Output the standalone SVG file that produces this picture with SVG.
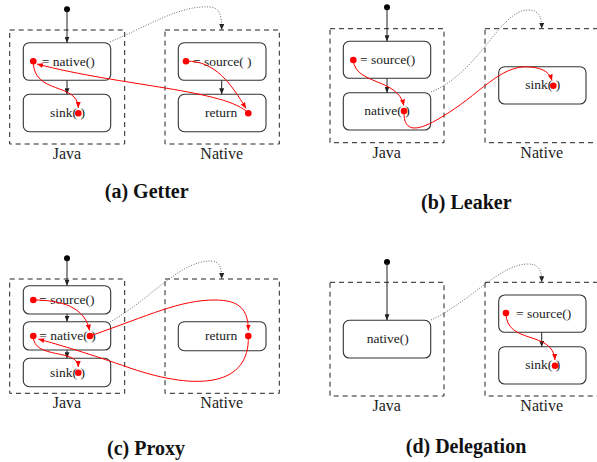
<svg xmlns="http://www.w3.org/2000/svg" width="597" height="462" viewBox="0 0 597 462">
<style>
.frame{fill:none;stroke:#222;stroke-width:1;stroke-dasharray:5 4}
.node rect{fill:#fff;stroke:#333;stroke-width:1.1}
.t{font-family:"Liberation Serif","Times New Roman",serif;font-size:13.5px;fill:#222}
.lab{font-family:"Liberation Serif","Times New Roman",serif;font-size:16px;fill:#222;text-anchor:middle}
.cap{font-family:"Liberation Serif","Times New Roman",serif;font-size:20px;font-weight:bold;fill:#111;text-anchor:middle}
.blk{fill:none;stroke:#222;stroke-width:1;marker-end:url(#ab)}
.dot{fill:none;stroke:#444;stroke-width:0.8;stroke-dasharray:1 1.6;marker-end:url(#ab)}
.red{fill:none;stroke:#f00;stroke-width:1;marker-end:url(#ar)}
.rd{fill:#f00}
.sd{fill:#000}
</style>
<defs>
<marker id="ab" markerUnits="userSpaceOnUse" markerWidth="6" markerHeight="5" refX="6" refY="2.5" orient="auto"><path d="M0,0 L6,2.5 L0,5 z" fill="#222"/></marker>
<marker id="ar" markerUnits="userSpaceOnUse" markerWidth="6" markerHeight="5" refX="6" refY="2.5" orient="auto"><path d="M0,0 L6,2.5 L0,5 z" fill="#f00"/></marker>
</defs>

<!-- Panel (a) Getter -->
<g id="a-frames">
<rect class="frame" x="9.7" y="30" width="115" height="114"/>
<rect class="frame" x="165" y="30" width="114.3" height="114"/>
<text class="lab" x="67" y="159">Java</text>
<text class="lab" x="221.7" y="159">Native</text>
<text class="cap" x="146.7" y="198">(a) Getter</text>
</g>
<g id="a-start"><circle class="sd" cx="67" cy="9.3" r="3"/></g>
<g id="a-native" class="node"><rect x="23.3" y="42.7" width="87.4" height="37.6" rx="6"/><text class="t" x="41.7" y="65.5">= native()</text></g>
<g id="a-sink" class="node"><rect x="23.3" y="94.3" width="87.4" height="37.4" rx="6"/><text class="t" x="50" y="117">sink( )</text></g>
<g id="a-source" class="node"><rect x="178.3" y="42.7" width="87.7" height="37.6" rx="6"/><text class="t" x="193" y="65.5">= source( )</text></g>
<g id="a-return" class="node"><rect x="178.3" y="94.3" width="87.7" height="37.4" rx="6"/><text class="t" x="205" y="117">return</text></g>
<g id="a-connectors">
<path class="blk" d="M67,9.3 V42.7"/>
<path class="blk" d="M67,80.3 V94.3"/>
<path class="blk" d="M221.7,80.3 V94.3"/>
<path class="dot" d="M110,42 C150,25 180,5 210,7 C220,8 221.7,15 221.7,30"/>
<path class="red" d="M33.3,61.3 C33,95 78,82 78.3,108"/>
<path class="red" d="M248.3,113.3 C228,90 120,86 37,64"/>
<path class="red" d="M186,61.3 C215,60 232,85 246,108.5"/>
<circle class="rd" cx="33.3" cy="61.3" r="3.3"/>
<circle class="rd" cx="78.3" cy="113.3" r="3.3"/>
<circle class="rd" cx="186" cy="61.3" r="3.3"/>
<circle class="rd" cx="248.3" cy="113.3" r="3.3"/>
</g>

<!-- Panel (b) Leaker -->
<g id="b-frames">
<rect class="frame" x="330" y="28.7" width="114" height="114"/>
<rect class="frame" x="485" y="28.7" width="114" height="114"/>
<text class="lab" x="386.7" y="158">Java</text>
<text class="lab" x="541.7" y="158">Native</text>
<text class="cap" x="466.3" y="209">(b) Leaker</text>
</g>
<g id="b-start"><circle class="sd" cx="387" cy="7.3" r="3"/></g>
<g id="b-source" class="node"><rect x="343.3" y="41.3" width="87.4" height="37" rx="6"/><text class="t" x="360" y="64">= source()</text></g>
<g id="b-native" class="node"><rect x="343.3" y="92.7" width="87.4" height="37.3" rx="6"/><text class="t" x="364.3" y="115">native( )</text></g>
<g id="b-sink" class="node"><rect x="498.7" y="66.7" width="87.3" height="37.3" rx="6"/><text class="t" x="525.3" y="89.3">sink( )</text></g>
<g id="b-connectors">
<path class="blk" d="M387,7.3 V41.3"/>
<path class="blk" d="M387,78.3 V92.7"/>
<path class="dot" d="M431,92 C480,72 500,10 528,10 C539,10 541.7,17 541.7,28.7"/>
<path class="red" d="M353.3,60 C355,85 398,78 403.8,105.5"/>
<path class="red" d="M404,111 C403,135 420,130 440,118 C480,95 500,64 530,67 C545,68 550,74 552,80.5"/>
<circle class="rd" cx="353.3" cy="60" r="3.3"/>
<circle class="rd" cx="404" cy="111" r="3.3"/>
<circle class="rd" cx="553.3" cy="85.7" r="3.3"/>
</g>

<!-- Panel (c) Proxy -->
<g id="c-frames">
<rect class="frame" x="9.7" y="279" width="115" height="114.3"/>
<rect class="frame" x="165" y="279" width="114.3" height="114.3"/>
<text class="lab" x="67" y="408">Java</text>
<text class="lab" x="221.7" y="408">Native</text>
<text class="cap" x="146" y="455">(c) Proxy</text>
</g>
<g id="c-start"><circle class="sd" cx="67" cy="258.3" r="3"/></g>
<g id="c-source" class="node"><rect x="23.3" y="285.7" width="87.4" height="28.3" rx="6"/><text class="t" x="39.3" y="304">= source()</text></g>
<g id="c-native" class="node"><rect x="23.3" y="321.7" width="87.4" height="28.3" rx="6"/><text class="t" x="39.3" y="340">= native( )</text></g>
<g id="c-sink" class="node"><rect x="23.3" y="358.3" width="87.4" height="28.4" rx="6"/><text class="t" x="50" y="376.5">sink( )</text></g>
<g id="c-return" class="node"><rect x="178.3" y="321.7" width="87.7" height="29" rx="6"/><text class="t" x="205" y="340">return</text></g>
<g id="c-connectors">
<path class="blk" d="M67,258.3 V285.7"/>
<path class="blk" d="M67,314 V321.7"/>
<path class="blk" d="M67,350 V358.3"/>
<path class="dot" d="M110,322 C150,300 180,260 212,261 C220,262 221.7,268 221.7,279"/>
<path class="red" d="M33.3,300 C70,300 86,312 89.5,330.5"/>
<path class="red" d="M90,336 C150,315 180,300 215,300 C240,300 248.3,310 248.3,330.5"/>
<path class="red" d="M248.3,336 C250,385 200,392 130,368 C90,354 60,345 38.3,339"/>
<path class="red" d="M33.3,336 C33,360 78,348 78.3,367"/>
<circle class="rd" cx="33.3" cy="300" r="3.3"/>
<circle class="rd" cx="33.3" cy="336" r="3.3"/>
<circle class="rd" cx="90" cy="336" r="3.3"/>
<circle class="rd" cx="78.3" cy="372.7" r="3.3"/>
<circle class="rd" cx="248.3" cy="336" r="3.3"/>
</g>

<!-- Panel (d) Delegation -->
<g id="d-frames">
<rect class="frame" x="330" y="282.3" width="114" height="113.7"/>
<rect class="frame" x="485" y="282.3" width="114" height="113.7"/>
<text class="lab" x="386.7" y="411">Java</text>
<text class="lab" x="541.7" y="411">Native</text>
<text class="cap" x="466" y="453">(d) Delegation</text>
</g>
<g id="d-start"><circle class="sd" cx="387" cy="262" r="3"/></g>
<g id="d-native" class="node"><rect x="343.3" y="320.3" width="87.4" height="37.7" rx="6"/><text class="t" x="366.7" y="343">native()</text></g>
<g id="d-source" class="node"><rect x="498.7" y="295" width="87.3" height="37.3" rx="6"/><text class="t" x="516" y="317.7">= source()</text></g>
<g id="d-sink" class="node"><rect x="498.7" y="346.7" width="87.3" height="37.3" rx="6"/><text class="t" x="525.3" y="369.3">sink( )</text></g>
<g id="d-connectors">
<path class="blk" d="M387,262 V320.3"/>
<path class="blk" d="M541.7,332.3 V346.7"/>
<path class="dot" d="M431,320 C470,302 500,264 528,264 C539,264 541.7,270 541.7,282.3"/>
<path class="red" d="M506,313 C506,345 553,330 555,360"/>
<circle class="rd" cx="506" cy="313" r="3.3"/>
<circle class="rd" cx="555" cy="365.7" r="3.3"/>
</g>
</svg>
